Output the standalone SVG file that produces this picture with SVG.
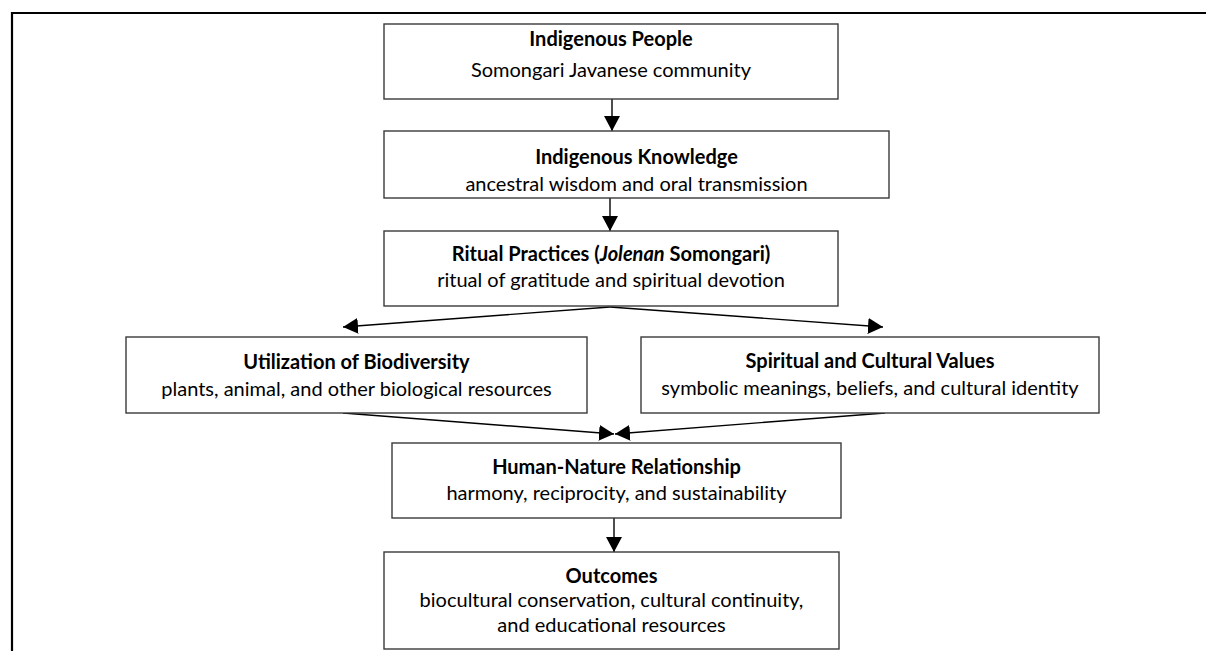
<svg xmlns="http://www.w3.org/2000/svg" width="1206" height="651" viewBox="0 0 1206 651">
<style>
.box{fill:#fff;stroke:#3a3a3a;stroke-width:1.4}
.t{font-family:Lato,"Liberation Sans",sans-serif;font-size:20px;fill:#000;text-anchor:middle}
.b{font-weight:bold}
.c{stroke:#000;stroke-width:1.4;fill:none;marker-end:url(#ah)}
</style>
<defs>
<marker id="ah" viewBox="0 0 15 16" refX="15" refY="8" markerWidth="15" markerHeight="16" markerUnits="userSpaceOnUse" orient="auto">
<path d="M0,0 L15,8 L0,16 z" fill="#000"/>
</marker>
</defs>
<rect width="1206" height="651" fill="#fff"/>
<path d="M12,651 L12,13 L1206,13" fill="none" stroke="#000" stroke-width="2.2"/>
<g id="connectors">
<line class="c" x1="612" y1="99" x2="612" y2="131"/>
<line class="c" x1="610" y1="198" x2="610" y2="231"/>
<line class="c" x1="610" y1="307" x2="343" y2="327"/>
<line class="c" x1="610" y1="307" x2="883" y2="327"/>
<line class="c" x1="343" y1="413" x2="614" y2="434"/>
<line class="c" x1="885" y1="413" x2="615" y2="434"/>
<line class="c" x1="614" y1="518" x2="614" y2="552"/>
</g>
<g id="n1">
<rect class="box" x="384" y="24" width="454" height="75"/>
<text class="t b" x="611" y="46">Indigenous People</text>
<text class="t" x="611" y="77">Somongari Javanese community</text>
</g>
<g id="n2">
<rect class="box" x="384" y="131" width="505" height="67"/>
<text class="t b" x="636.5" y="164">Indigenous Knowledge</text>
<text class="t" x="636.5" y="191">ancestral wisdom and oral transmission</text>
</g>
<g id="n3">
<rect class="box" x="384" y="231" width="454" height="75"/>
<text class="t b" x="611" y="261">Ritual Practices (<tspan font-style="italic">Jolenan</tspan> Somongari)</text>
<text class="t" x="611" y="287">ritual of gratitude and spiritual devotion</text>
</g>
<g id="n4">
<rect class="box" x="126" y="337" width="461" height="76"/>
<text class="t b" x="356.5" y="369">Utilization of Biodiversity</text>
<text class="t" x="356.5" y="396">plants, animal, and other biological resources</text>
</g>
<g id="n5">
<rect class="box" x="641" y="337" width="458" height="76"/>
<text class="t b" x="870" y="368">Spiritual and Cultural Values</text>
<text class="t" x="870" y="395">symbolic meanings, beliefs, and cultural identity</text>
</g>
<g id="n6">
<rect class="box" x="392" y="443" width="449" height="75"/>
<text class="t b" x="616.5" y="474">Human-Nature Relationship</text>
<text class="t" x="616.5" y="500">harmony, reciprocity, and sustainability</text>
</g>
<g id="n7">
<rect class="box" x="384" y="552" width="455" height="97"/>
<text class="t b" x="611.5" y="583">Outcomes</text>
<text class="t" x="611.5" y="607">biocultural conservation, cultural continuity,</text>
<text class="t" x="611.5" y="632">and educational resources</text>
</g>
</svg>
